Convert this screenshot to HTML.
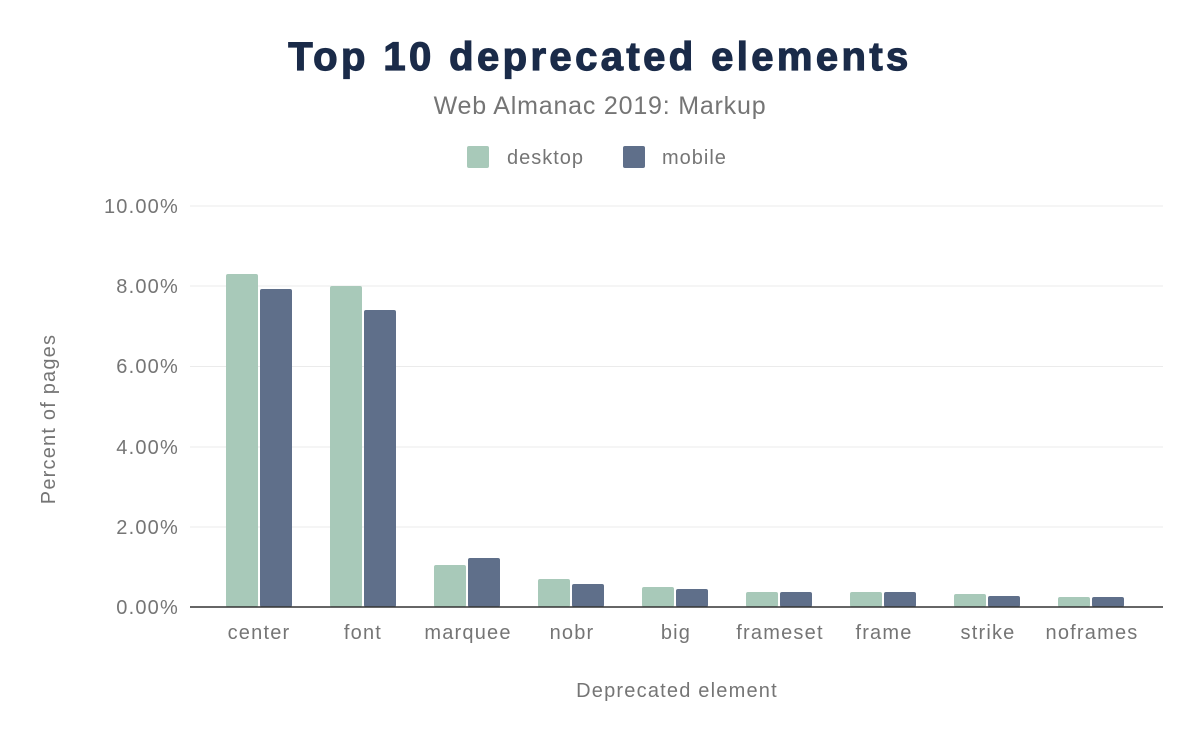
<!DOCTYPE html>
<html><head><meta charset="utf-8"><style>
html,body{margin:0;padding:0;background:#fff;}
svg text{font-family:"Liberation Sans",sans-serif;}
</style></head><body>
<svg width="1200" height="742" viewBox="0 0 1200 742" xmlns="http://www.w3.org/2000/svg">
<rect width="1200" height="742" fill="#fff"/>
<text x="600" y="70" text-anchor="middle" font-size="40" font-weight="bold" fill="#1a2b49" stroke="#1a2b49" stroke-width="1.2" style="letter-spacing:3.4px">Top 10 deprecated elements</text>
<text x="600" y="114" text-anchor="middle" font-size="25" fill="#757575" style="letter-spacing:0.8px">Web Almanac 2019: Markup</text>
<rect x="467" y="146" width="22" height="22" rx="2" fill="#a8c9b9"/>
<text x="507" y="164" font-size="20" fill="#757575" style="letter-spacing:1px">desktop</text>
<rect x="623" y="146" width="22" height="22" rx="2" fill="#5f6f8a"/>
<text x="662" y="164" font-size="20" fill="#757575" style="letter-spacing:1px">mobile</text>
<g stroke="#ebebeb" stroke-width="1">
<line x1="190" y1="206" x2="1163" y2="206"/>
<line x1="190" y1="286" x2="1163" y2="286"/>
<line x1="190" y1="366.5" x2="1163" y2="366.5"/>
<line x1="190" y1="447" x2="1163" y2="447"/>
<line x1="190" y1="527" x2="1163" y2="527"/>
</g>
<g font-size="20" fill="#757575" text-anchor="end" style="letter-spacing:1.2px">
<text x="179" y="213">10.00%</text>
<text x="179" y="293">8.00%</text>
<text x="179" y="373">6.00%</text>
<text x="179" y="454">4.00%</text>
<text x="179" y="534">2.00%</text>
<text x="179" y="614">0.00%</text>
</g>
<text transform="translate(55,419) rotate(-90)" text-anchor="middle" font-size="20" fill="#757575" style="letter-spacing:1.2px">Percent of pages</text>
<g fill="#a8c9b9">
<rect x="226" y="274" width="32" height="333" rx="2"/>
<rect x="330" y="286" width="32" height="321" rx="2"/>
<rect x="434" y="565" width="32" height="42" rx="2"/>
<rect x="538" y="579" width="32" height="28" rx="2"/>
<rect x="642" y="587" width="32" height="20" rx="2"/>
<rect x="746" y="592" width="32" height="15" rx="2"/>
<rect x="850" y="592" width="32" height="15" rx="2"/>
<rect x="954" y="594" width="32" height="13" rx="2"/>
<rect x="1058" y="597" width="32" height="10" rx="2"/>
</g>
<g fill="#5f6f8a">
<rect x="260" y="289" width="32" height="318" rx="2"/>
<rect x="364" y="310" width="32" height="297" rx="2"/>
<rect x="468" y="558" width="32" height="49" rx="2"/>
<rect x="572" y="584" width="32" height="23" rx="2"/>
<rect x="676" y="589" width="32" height="18" rx="2"/>
<rect x="780" y="592" width="32" height="15" rx="2"/>
<rect x="884" y="592" width="32" height="15" rx="2"/>
<rect x="988" y="596" width="32" height="11" rx="2"/>
<rect x="1092" y="597" width="32" height="10" rx="2"/>
</g>
<line x1="190" y1="607" x2="1163" y2="607" stroke="#333" stroke-width="1.5"/>
<g font-size="20" fill="#757575" text-anchor="middle" style="letter-spacing:1.2px">
<text x="259" y="639">center</text>
<text x="363" y="639">font</text>
<text x="468" y="639">marquee</text>
<text x="572" y="639">nobr</text>
<text x="676" y="639">big</text>
<text x="780" y="639">frameset</text>
<text x="884" y="639">frame</text>
<text x="988" y="639">strike</text>
<text x="1092" y="639">noframes</text>
</g>
<text x="677" y="697" text-anchor="middle" font-size="20" fill="#757575" style="letter-spacing:1.2px">Deprecated element</text>
</svg>
</body></html>
